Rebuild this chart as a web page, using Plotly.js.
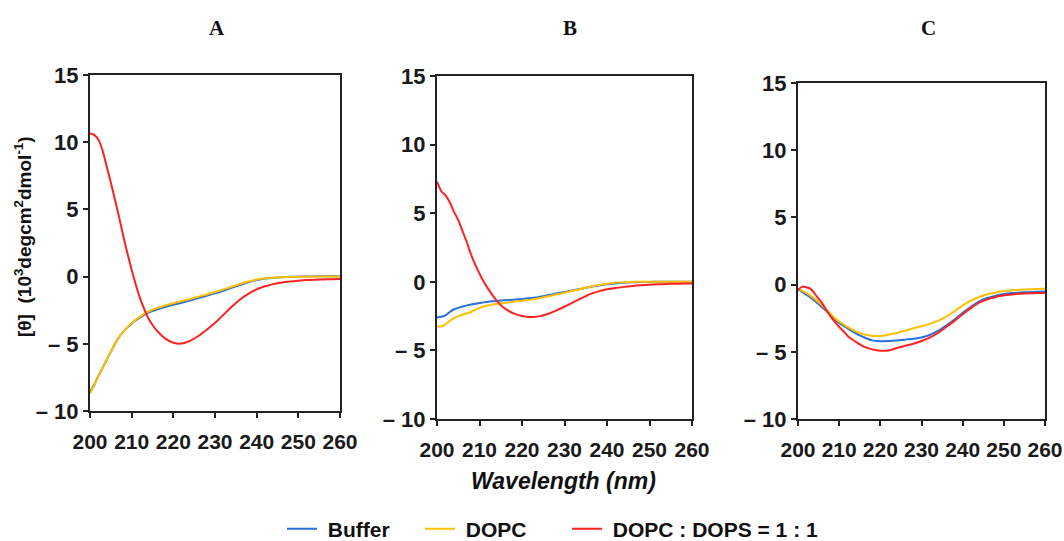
<!DOCTYPE html>
<html>
<head>
<meta charset="utf-8">
<script src="https://cdn.plot.ly/plotly-3.0.1.min.js"></script>
<style>
  html, body { margin: 0; padding: 0; background: #ffffff; }
  #chart { width: 1064px; height: 541px; }
</style>
</head>
<body>
<div id="chart"></div>
<script>
// ---------- DATA ----------
const wavelength = [200,201,202,203,204,205,206,207,208,209,210,211,212,213,214,215,216,
  218,220,222,224,226,228,230,232,234,236,238,240,242,244,246,248,250,252,254,256,258,260];

const seriesNames = ["\u00A0Buffer", "\u00A0DOPC", "\u00A0DOPC : DOPS = 1 : 1"];
const panelLabels = ["A", "B", "C"];
const xTickVals = [200, 210, 220, 230, 240, 250, 260];
const yTickVals = [-10, -5, 0, 5, 10, 15];
const yTickText = ["\u2013 10", "\u2013 5", "0", "5", "10", "15"];

// Panel A
const bufferA = [-8.6,-8.05,-7.4,-6.8,-6.2,-5.6,-5.0,-4.5,-4.1,-3.78,-3.5,-3.25,-3.03,-2.84,-2.68,-2.56,-2.45,
  -2.26,-2.1,-1.94,-1.78,-1.6,-1.43,-1.25,-1.05,-0.83,-0.62,-0.42,-0.26,-0.15,-0.08,-0.04,-0.01,0,0.01,0.02,0.02,0.03,0.03];
const dopcA = [-8.7,-8.1,-7.4,-6.8,-6.2,-5.6,-5.0,-4.5,-4.1,-3.75,-3.45,-3.2,-2.98,-2.78,-2.6,-2.47,-2.35,
  -2.15,-1.98,-1.82,-1.66,-1.5,-1.33,-1.15,-0.95,-0.75,-0.55,-0.37,-0.22,-0.13,-0.08,-0.05,-0.03,-0.02,-0.01,0,0,0,0];
const mixA = [10.65,10.55,10.2,9.4,8.2,7.0,5.7,4.4,3.0,1.7,0.5,-0.6,-1.6,-2.4,-3.1,-3.6,-4.0,
  -4.6,-4.92,-4.98,-4.78,-4.42,-3.95,-3.45,-2.85,-2.25,-1.7,-1.28,-0.95,-0.72,-0.56,-0.44,-0.36,-0.3,-0.26,-0.23,-0.21,-0.19,-0.18];

// Panel B
const bufferB = [-2.6,-2.55,-2.45,-2.2,-2.0,-1.9,-1.8,-1.72,-1.65,-1.6,-1.55,-1.5,-1.45,-1.42,-1.4,-1.37,-1.34,
  -1.3,-1.25,-1.18,-1.1,-0.98,-0.86,-0.74,-0.62,-0.5,-0.38,-0.27,-0.18,-0.12,-0.07,-0.04,-0.02,-0.01,0,0,0,0,0];
const dopcB = [-3.25,-3.25,-3.1,-2.85,-2.65,-2.5,-2.4,-2.3,-2.2,-2.05,-1.9,-1.8,-1.72,-1.66,-1.62,-1.58,-1.54,
  -1.46,-1.38,-1.3,-1.2,-1.07,-0.93,-0.8,-0.65,-0.5,-0.36,-0.24,-0.14,-0.07,-0.03,-0.01,0,0,0,0.01,0.01,0.01,0.01];
const mixB = [7.3,6.6,6.3,5.8,5.1,4.5,3.7,2.9,2.0,1.25,0.6,0.0,-0.5,-0.95,-1.35,-1.7,-1.95,
  -2.3,-2.5,-2.57,-2.52,-2.35,-2.1,-1.82,-1.5,-1.2,-0.9,-0.7,-0.55,-0.45,-0.37,-0.3,-0.25,-0.21,-0.18,-0.16,-0.14,-0.13,-0.12];

// Panel C
const bufferC = [-0.35,-0.55,-0.75,-0.95,-1.2,-1.45,-1.75,-2.0,-2.3,-2.6,-2.85,-3.05,-3.25,-3.45,-3.62,-3.78,-3.92,
  -4.15,-4.22,-4.2,-4.16,-4.1,-4.03,-3.93,-3.75,-3.45,-3.05,-2.6,-2.1,-1.65,-1.25,-1.0,-0.82,-0.7,-0.63,-0.59,-0.56,-0.54,-0.52];
const dopcC = [-0.3,-0.45,-0.62,-0.82,-1.05,-1.3,-1.6,-1.9,-2.2,-2.5,-2.75,-2.95,-3.15,-3.32,-3.48,-3.6,-3.7,
  -3.82,-3.82,-3.72,-3.6,-3.43,-3.25,-3.1,-2.92,-2.7,-2.38,-1.98,-1.55,-1.2,-0.92,-0.72,-0.58,-0.48,-0.42,-0.38,-0.35,-0.33,-0.31];
const mixC = [-0.4,-0.15,-0.2,-0.3,-0.65,-1.05,-1.45,-1.95,-2.4,-2.8,-3.15,-3.45,-3.8,-4.05,-4.25,-4.45,-4.62,
  -4.82,-4.92,-4.9,-4.72,-4.55,-4.4,-4.2,-3.95,-3.6,-3.15,-2.7,-2.2,-1.75,-1.35,-1.1,-0.92,-0.8,-0.73,-0.68,-0.65,-0.63,-0.62];

// ---------- STYLE ----------
const colors = ["#2b6fd8", "#ffc000", "#ff2020"];
const W = 1064, H = 541;
const panels = [
  {data: [bufferA, dopcA, mixA], x: [90, 340], y: [75, 411], lx: 217},
  {data: [bufferB, dopcB, mixB], x: [437, 692], y: [76, 419], lx: 570},
  {data: [bufferC, dopcC, mixC], x: [798, 1045], y: [83, 419], lx: 928}
];
const legendWidths = [93, 102, 220];

const traces = [];
const layout = {
  width: W, height: H, autosize: false,
  margin: {l: 0, r: 0, t: 0, b: 0, pad: 0, autoexpand: false},
  paper_bgcolor: "#ffffff", plot_bgcolor: "#ffffff",
  showlegend: true,
  legend: {
    orientation: "h", xref: "container", yref: "container",
    x: 282 / W, xanchor: "left", y: 1 - 529 / H, yanchor: "middle",
    font: {family: "Liberation Sans, Arial, sans-serif", size: 21, color: "#111", weight: "bold"},
    bgcolor: "rgba(0,0,0,0)", borderwidth: 0
  },
  annotations: [],
  font: {family: "Liberation Sans, Arial, sans-serif", color: "#111"}
};

const xTickFont = {family: "Liberation Sans, Arial, sans-serif", size: 21, color: "#1a1a1a", weight: "bold"};
const yTickFont = {family: "Liberation Sans, Arial, sans-serif", size: 22, color: "#1a1a1a", weight: "bold"};

panels.forEach((p, i) => {
  const sfx = i === 0 ? "" : String(i + 1);
  p.data.forEach((vals, k) => {
    traces.push({
      type: "scatter", mode: "lines",
      x: wavelength, y: vals,
      name: seriesNames[k],
      xaxis: "x" + sfx, yaxis: "y" + sfx,
      line: {color: colors[k], width: 2, shape: "spline", smoothing: 0.6},
      showlegend: i === 0,
      legendwidth: legendWidths[k],
      hoverinfo: "skip"
    });
  });
  layout["xaxis" + sfx] = {
    domain: [p.x[0] / W, p.x[1] / W], anchor: "y" + sfx,
    range: [200, 260], tickvals: xTickVals, ticks: "outside", ticklen: 5, tickwidth: 2, tickcolor: "#222",
    showline: true, linewidth: 2, linecolor: "#222", mirror: true,
    showgrid: false, zeroline: false, tickfont: xTickFont, ticklabelstandoff: 6
  };
  layout["yaxis" + sfx] = {
    domain: [1 - p.y[1] / H, 1 - p.y[0] / H], anchor: "x" + sfx,
    range: [-10, 15], tickvals: yTickVals, ticktext: yTickText, ticks: "outside", ticklen: 5, tickwidth: 2, tickcolor: "#222",
    showline: true, linewidth: 2, linecolor: "#222", mirror: true,
    showgrid: false, zeroline: false, tickfont: yTickFont
  };
  layout.annotations.push({
    text: "<b>" + panelLabels[i] + "</b>", xref: "paper", yref: "paper",
    x: p.lx / W, y: 1 - 28 / H, xanchor: "center", yanchor: "middle", showarrow: false,
    font: {family: "Liberation Serif, Times New Roman, serif", size: 21, color: "#111"}
  });
});

layout.annotations.push({
  text: "<b>[θ]\u00A0\u00A0(10<sup>3</sup>degcm<sup>2</sup>dmol<sup>-1</sup>)</b>",
  xref: "paper", yref: "paper", x: 23 / W, y: 1 - 237 / H, xanchor: "center", yanchor: "middle",
  textangle: -90, showarrow: false,
  font: {family: "Liberation Sans, Arial, sans-serif", size: 19, color: "#111"}
});
layout.annotations.push({
  text: "<b><i>Wavelength (nm)</i></b>",
  xref: "paper", yref: "paper", x: 563 / W, y: 1 - 481 / H, xanchor: "center", yanchor: "middle",
  showarrow: false,
  font: {family: "Liberation Sans, Arial, sans-serif", size: 23, color: "#111"}
});

Plotly.newPlot("chart", traces, layout, {displayModeBar: false, staticPlot: true});
</script>
</body>
</html>
